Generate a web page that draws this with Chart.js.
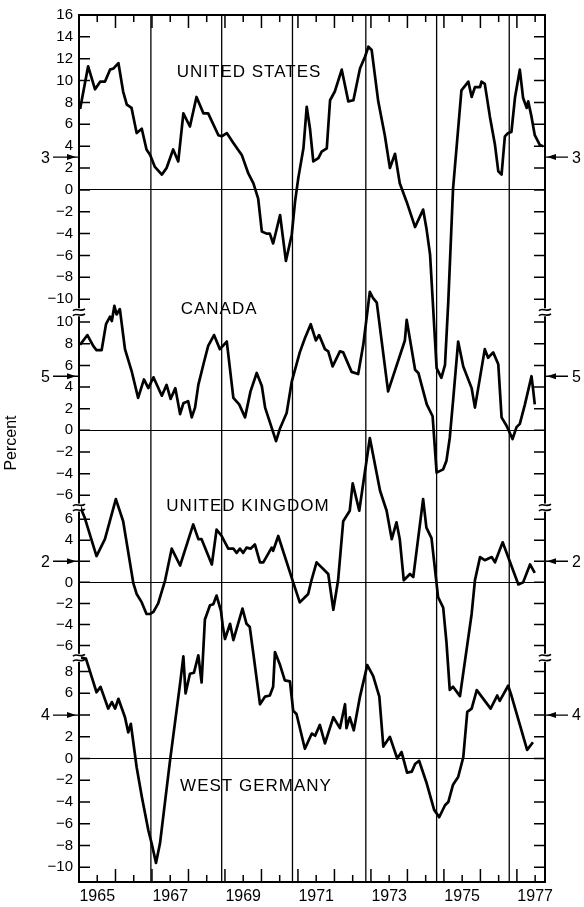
<!DOCTYPE html>
<html>
<head>
<meta charset="utf-8">
<script src="https://cdn.jsdelivr.net/npm/chart.js@4.4.1/dist/chart.umd.min.js"></script>
<style>
  html, body { margin: 0; padding: 0; background: #fff; }
  #wrap { width: 584px; height: 907px; }
</style>
</head>
<body>
<div id="wrap"><canvas id="chart" width="584" height="907"></canvas></div>
<script>
const FONT = "'Liberation Sans', Arial, sans-serif";

// x axis: labels sit in the middle of odd years
const xLabelYears = [1965, 1967, 1969, 1971, 1973, 1975, 1977];
const referenceDates = [1966.97, 1968.91, 1970.85, 1972.86, 1974.80, 1976.79];

// left-axis tick values for each panel
const usTicks = [-10, -8, -6, -4, -2, 0, 2, 4, 6, 8, 10, 12, 14, 16];
const caTicks = [-6, -4, -2, 0, 2, 4, 6, 8, 10];
const ukTicks = [-6, -4, -2, 0, 2, 4, 6];
const deTicks = [-10, -8, -6, -4, -2, 0, 2, 4, 6, 8];

const panelNames = ['UNITED STATES', 'CANADA', 'UNITED KINGDOM', 'WEST GERMANY'];
const panelAverages = [3, 5, 2, 4];

const usYears = [1965.03,1965.25,1965.44,1965.58,1965.71,1965.85,1965.94,1966.08,1966.21,1966.31,
  1966.44,1966.58,1966.72,1966.85,1966.95,1967.08,1967.27,1967.40,1967.58,1967.72,
  1967.86,1968.04,1968.22,1968.41,1968.54,1968.82,1968.91,1969.05,1969.23,1969.46,
  1969.64,1969.78,1969.91,1970.01,1970.14,1970.23,1970.32,1970.51,1970.67,1970.83,
  1970.92,1971.01,1971.15,1971.24,1971.33,1971.42,1971.56,1971.65,1971.79,1971.88,
  1972.01,1972.20,1972.38,1972.52,1972.70,1972.84,1972.93,1973.02,1973.20,1973.38,
  1973.52,1973.66,1973.79,1973.98,1974.21,1974.43,1974.52,1974.62,1974.71,1974.80,
  1974.93,1975.03,1975.12,1975.25,1975.48,1975.67,1975.76,1975.85,1975.99,1976.03,
  1976.12,1976.26,1976.40,1976.49,1976.58,1976.67,1976.76,1976.85,1976.95,1977.08,
  1977.17,1977.27,1977.31,1977.40,1977.49,1977.63,1977.72];
const usValues = [7.4,11.3,9.2,9.9,9.9,11.0,11.1,11.6,9.0,7.8,
  7.5,5.2,5.6,3.7,3.2,2.1,1.4,2.0,3.7,2.6,
  7.0,5.8,8.5,7.0,7.0,5.0,4.9,5.2,4.3,3.2,
  1.5,0.6,-0.8,-3.8,-4.0,-4.0,-4.9,-2.3,-6.5,-4.1,
  -1.1,1.1,3.8,7.6,5.6,2.6,2.9,3.5,3.8,8.2,
  9.0,11.0,8.1,8.2,11.1,12.2,13.1,12.8,8.1,5.0,
  2.0,3.3,0.6,-1.1,-3.4,-1.8,-3.5,-5.9,-11.1,-16.3,
  -17.2,-16.0,-10.2,0.1,9.1,9.9,8.5,9.4,9.4,9.9,
  9.7,6.7,4.1,1.7,1.4,4.9,5.2,5.3,8.5,11.0,
  8.4,7.5,8.1,6.7,5.0,4.1,4.0];

const caYears = [1965.03,1965.23,1965.39,1965.48,1965.62,1965.74,1965.85,1965.90,1965.97,1966.03,
  1966.12,1966.26,1966.44,1966.62,1966.78,1966.90,1967.04,1967.27,1967.40,1967.51,
  1967.64,1967.77,1967.86,1967.99,1968.09,1968.18,1968.27,1968.41,1968.54,1968.70,
  1968.86,1969.05,1969.23,1969.39,1969.55,1969.70,1969.87,1970.01,1970.10,1970.40,
  1970.51,1970.69,1970.83,1971.05,1971.19,1971.35,1971.49,1971.58,1971.74,1971.83,
  1971.95,1972.15,1972.24,1972.47,1972.65,1972.79,1972.97,1973.06,1973.16,1973.47,
  1973.93,1973.98,1974.21,1974.30,1974.53,1974.69,1974.80,1974.98,1975.07,1975.16,
  1975.25,1975.39,1975.53,1975.76,1975.85,1976.12,1976.21,1976.35,1976.49,1976.58,
  1976.72,1976.88,1976.99,1977.08,1977.22,1977.40,1977.44,1977.49];
const caValues = [7.9,8.8,7.8,7.4,7.4,9.8,10.5,10.1,11.5,10.7,
  11.2,7.5,5.5,3.0,4.7,3.9,4.9,3.2,4.2,2.9,
  3.9,1.5,2.5,2.7,1.2,2.1,4.2,6.1,7.8,8.8,
  7.5,8.2,3.0,2.4,1.2,3.6,5.3,4.1,2.1,-1.0,
  0.2,1.6,4.5,7.2,8.5,9.8,8.3,8.8,7.5,7.3,
  5.9,7.3,7.2,5.4,5.2,7.9,12.8,12.2,11.8,3.6,
  8.3,10.2,5.6,5.3,2.4,1.3,-3.9,-3.6,-2.8,-0.7,
  2.7,8.2,5.9,3.9,2.1,7.5,6.7,7.2,6.1,1.2,
  0.4,-0.8,0.3,0.6,2.4,5.0,3.9,2.4];

const ukYears = [1965.03,1965.16,1965.48,1965.71,1966.01,1966.21,1966.49,1966.58,1966.72,1966.85,
  1966.95,1967.04,1967.17,1967.36,1967.54,1967.77,1968.13,1968.27,1968.36,1968.64,
  1968.77,1968.91,1969.09,1969.23,1969.32,1969.41,1969.50,1969.59,1969.70,1969.82,
  1969.96,1970.05,1970.28,1970.32,1970.46,1970.87,1971.05,1971.28,1971.37,1971.51,
  1971.83,1971.97,1972.10,1972.24,1972.42,1972.50,1972.68,1972.97,1973.25,1973.43,
  1973.57,1973.70,1973.79,1973.90,1974.07,1974.16,1974.43,1974.52,1974.66,1974.84,
  1974.98,1975.07,1975.16,1975.25,1975.44,1975.76,1975.85,1975.99,1976.12,1976.31,
  1976.40,1976.61,1977.04,1977.17,1977.36,1977.49];
const ukValues = [7.2,6.1,2.5,4.1,7.9,5.8,-0.1,-1.1,-1.9,-3.0,
  -3.0,-2.8,-2.0,0.2,3.2,1.6,5.5,4.1,4.1,1.7,
  5.0,4.4,3.2,3.2,2.8,3.2,2.8,3.3,3.2,3.6,
  1.9,1.9,3.3,3.0,4.4,0.0,-1.9,-1.1,0.2,1.9,
  0.8,-2.6,0.2,5.8,6.8,9.4,6.8,13.7,8.7,6.8,
  4.1,5.7,4.1,0.2,0.8,0.5,7.9,5.2,4.2,-1.4,
  -2.4,-5.7,-10.2,-9.9,-10.8,-3.0,0.2,2.4,2.1,2.4,
  1.9,3.8,-0.2,0.0,1.7,0.9];

const deYears = [1965.03,1965.19,1965.35,1965.48,1965.59,1965.80,1965.90,1965.99,1966.08,1966.26,
  1966.35,1966.42,1966.58,1966.72,1966.90,1966.99,1967.11,1967.22,1967.49,1967.77,
  1967.86,1967.92,1968.04,1968.15,1968.27,1968.36,1968.45,1968.59,1968.68,1968.77,
  1968.89,1968.94,1969.00,1969.14,1969.23,1969.48,1969.59,1969.68,1969.78,1969.96,
  1970.10,1970.23,1970.32,1970.37,1970.51,1970.64,1970.78,1970.87,1970.96,1971.19,
  1971.38,1971.47,1971.60,1971.74,1971.97,1972.15,1972.29,1972.33,1972.42,1972.53,
  1972.70,1972.90,1973.06,1973.23,1973.34,1973.52,1973.72,1973.84,1973.99,1974.12,
  1974.21,1974.32,1974.53,1974.73,1974.87,1975.03,1975.12,1975.25,1975.39,1975.53,
  1975.64,1975.76,1975.90,1976.28,1976.46,1976.53,1976.76,1976.85,1977.28,1977.44];
const deValues = [9.3,9.2,7.5,6.1,6.6,4.6,5.2,4.6,5.5,3.8,
  2.4,3.2,-0.8,-3.5,-6.6,-7.8,-9.6,-7.8,-0.3,6.9,
  9.4,6.0,7.8,7.9,9.5,7.0,12.8,14.1,14.2,15.0,
  13.6,12.2,11.0,12.4,10.9,13.8,12.4,12.1,9.6,5.0,
  5.7,5.8,6.6,9.8,8.6,7.2,7.1,4.4,4.1,0.9,
  2.3,2.1,3.1,1.4,3.8,2.8,5.0,2.8,3.8,2.6,
  5.7,8.6,7.6,5.7,1.1,2.0,0.0,0.6,-1.3,-1.2,
  -0.5,-0.2,-2.3,-4.7,-5.4,-4.3,-4.0,-2.4,-1.7,0.1,
  4.3,4.6,6.3,4.6,5.8,5.3,6.7,5.8,0.8,1.5];

const panelIds = ['yUS', 'yCA', 'yUK', 'yDE'];

function series(years, values, axis) {
  return {
    data: years.map((yr, i) => ({ x: yr, y: values[i] })),
    yAxisID: axis,
    borderColor: '#000',
    borderWidth: 2.7,
    borderJoinStyle: 'round',
    pointRadius: 0,
    tension: 0,
    clip: false
  };
}

// the tick label equal to the panel's average is left out; the arrow marker stands there
function panelScale(min, max, weight, ticks, avg) {
  return {
    type: 'linear',
    position: 'left',
    stack: 'panels',
    stackWeight: weight,
    min: min,
    max: max,
    afterBuildTicks: s => { s.ticks = ticks.map(v => ({ value: v })); },
    afterFit: s => { s.width = 79; },
    grid: {
      drawTicks: false,
      lineWidth: 1,
      color: c => (c.tick && c.tick.value === 0) ? '#000' : 'rgba(0,0,0,0)'
    },
    border: { display: false },
    ticks: {
      padding: 6,
      autoSkip: false,
      color: '#000',
      font: { family: FONT, size: 15 },
      callback: v => v === avg ? '' : (v < 0 ? '\u2212' + Math.abs(v) : String(v))
    }
  };
}

function drawBreak(ctx, x, y) {
  ctx.fillStyle = '#fff';
  ctx.fillRect(x - 2, y - 4, 4, 8);
  ctx.lineWidth = 1.6;
  [-2.5, 2.5].forEach(dy => {
    const yy = y + dy;
    ctx.beginPath();
    ctx.moveTo(x - 6, yy + 1);
    ctx.bezierCurveTo(x - 3, yy - 3, x + 1, yy + 3, x + 6, yy - 1);
    ctx.stroke();
  });
}

const decorations = {
  id: 'decorations',
  beforeDatasetsDraw(chart) {
    const { ctx, chartArea: a, scales } = chart;
    ctx.save();
    ctx.strokeStyle = '#000';
    ctx.lineWidth = 1.3;
    referenceDates.forEach(d => {
      const px = scales.x.getPixelForValue(d);
      ctx.beginPath();
      ctx.moveTo(px, a.top);
      ctx.lineTo(px, a.bottom);
      ctx.stroke();
    });
    ctx.restore();
  },
  afterDraw(chart) {
    const { ctx, chartArea: a, scales } = chart;
    const xs = scales.x;
    ctx.save();
    ctx.strokeStyle = '#000';
    ctx.fillStyle = '#000';

    // frame
    ctx.lineWidth = 2;
    ctx.strokeRect(a.left, a.top, a.right - a.left, a.bottom - a.top);

    // x tick marks, top and bottom, pointing inward
    ctx.lineWidth = 1.5;
    for (let yr = 1965; yr <= 1977; yr++) {
      [[yr, 13], [yr + 0.5, 7]].forEach(([v, len]) => {
        if (v <= xs.min || v >= xs.max) return;
        const px = xs.getPixelForValue(v);
        ctx.beginPath();
        ctx.moveTo(px, a.bottom); ctx.lineTo(px, a.bottom - len);
        ctx.moveTo(px, a.top); ctx.lineTo(px, a.top + len);
        ctx.stroke();
      });
    }

    // y tick marks on both sides
    panelIds.forEach(id => {
      const s = scales[id];
      s.ticks.forEach(t => {
        const py = s.getPixelForValue(t.value);
        ctx.beginPath();
        ctx.moveTo(a.left, py); ctx.lineTo(a.left + 11, py);
        ctx.moveTo(a.right - 11, py); ctx.lineTo(a.right, py);
        ctx.stroke();
      });
    });

    // axis breaks between panels
    ctx.strokeStyle = '#000';
    panelIds.slice(1).forEach(id => {
      const yb = scales[id].top;
      drawBreak(ctx, a.left, yb);
      drawBreak(ctx, a.right, yb);
    });

    // average markers with arrows
    ctx.fillStyle = '#000';
    ctx.strokeStyle = '#000';
    ctx.font = '16px ' + FONT;
    ctx.textBaseline = 'middle';
    panelIds.forEach((id, i) => {
      const py = scales[id].getPixelForValue(panelAverages[i]);
      ctx.lineWidth = 1.4;
      ctx.beginPath();
      ctx.moveTo(53, py); ctx.lineTo(a.left, py);
      ctx.moveTo(a.right, py); ctx.lineTo(a.right + 23, py);
      ctx.stroke();
      ctx.beginPath();
      ctx.moveTo(a.left - 3, py); ctx.lineTo(a.left - 12, py - 3); ctx.lineTo(a.left - 12, py + 3);
      ctx.closePath(); ctx.fill();
      ctx.beginPath();
      ctx.moveTo(a.right + 2, py); ctx.lineTo(a.right + 11, py - 3); ctx.lineTo(a.right + 11, py + 3);
      ctx.closePath(); ctx.fill();
      ctx.textAlign = 'right';
      ctx.fillText(String(panelAverages[i]), 50, py + 1);
      ctx.textAlign = 'left';
      ctx.fillText(String(panelAverages[i]), a.right + 27, py + 1);
    });

    // panel names (anchor: year, value in the panel's own units)
    const nameSpots = [[1969.66, 10.8], [1968.84, 11.2], [1969.63, 7.2], [1969.85, -2.6]];
    ctx.font = '17px ' + FONT;
    ctx.letterSpacing = '1px';
    ctx.textAlign = 'center';
    panelIds.forEach((id, i) => {
      const [yr, v] = nameSpots[i];
      ctx.fillText(panelNames[i], xs.getPixelForValue(yr), scales[id].getPixelForValue(v));
    });
    ctx.letterSpacing = '0px';

    // axis title
    ctx.translate(12, 443);
    ctx.rotate(-Math.PI / 2);
    ctx.font = '16px ' + FONT;
    ctx.textAlign = 'center';
    ctx.fillText('Percent', 0, 0);
    ctx.restore();
  }
};

new Chart(document.getElementById('chart'), {
  type: 'line',
  data: {
    datasets: [
      series(usYears, usValues, 'yUS'),
      series(caYears, caValues, 'yCA'),
      series(ukYears, ukValues, 'yUK'),
      series(deYears, deValues, 'yDE')
    ]
  },
  options: {
    responsive: false,
    animation: false,
    devicePixelRatio: 1,
    layout: { padding: { top: 13, right: 39, left: 0, bottom: 0 } },
    plugins: { legend: { display: false }, tooltip: { enabled: false } },
    scales: {
      x: {
        type: 'linear',
        min: 1965,
        max: 1977.77,
        afterBuildTicks: s => { s.ticks = xLabelYears.map(y => ({ value: y + 0.5 })); },
        afterFit: s => { s.height = 25; },
        grid: { display: false, drawTicks: false },
        border: { display: false },
        ticks: {
          padding: 5,
          maxRotation: 0,
          autoSkip: false,
          color: '#000',
          font: { family: FONT, size: 16 },
          callback: v => String(Math.floor(v))
        }
      },
      // left boxes are laid out in reverse order, so the top panel comes last
      yDE: panelScale(-11.36, 9.27, 224.7, deTicks, panelAverages[3]),
      yUK: panelScale(-7.16, 7.1, 150.6, ukTicks, panelAverages[2]),
      yCA: panelScale(-7.13, 10.9, 195.7, caTicks, panelAverages[1]),
      yUS: panelScale(-11.2, 16, 298, usTicks, panelAverages[0])
    }
  },
  plugins: [decorations]
});
</script>
</body>
</html>
